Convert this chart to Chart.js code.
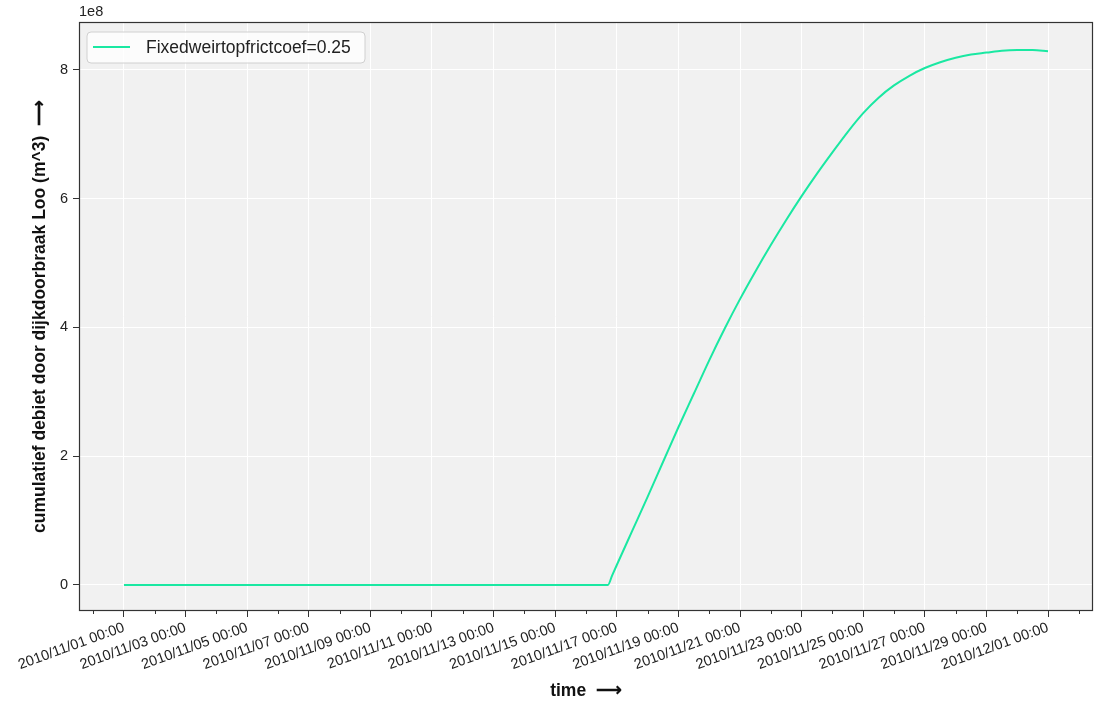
<!DOCTYPE html>
<html>
<head>
<meta charset="utf-8">
<script src="https://cdn.jsdelivr.net/npm/chart.js@4"></script>
<style>
  html, body { margin: 0; padding: 0; background: #fff; }
</style>
</head>
<body>
<canvas id="line-chart" width="1096" height="704"></canvas>
<script>
// days since 2010/11/01 00:00
const dayOffsets = [0, 1, 2, 3, 4, 5, 6, 7, 8, 9, 10, 11, 12, 13, 14, 15, 15.71, 15.85,
    16, 16.5, 17, 17.5, 18, 18.5, 19, 19.5, 20, 20.5, 21, 21.5, 22, 22.5, 23, 23.5,
    24, 24.5, 25, 25.5, 26, 26.5, 27, 27.5, 28, 28.5, 29, 29.5, 30];
// cumulatief debiet (x 1e8 m^3)
const debiet = [0, 0, 0, 0, 0, 0, 0, 0, 0, 0, 0, 0, 0, 0, 0, 0, 0, 0.15,
    0.31, 0.84, 1.37, 1.91, 2.45, 2.97, 3.49, 3.98, 4.44, 4.87, 5.28, 5.67, 6.04, 6.39, 6.72, 7.04,
    7.33, 7.57, 7.76, 7.91, 8.03, 8.12, 8.19, 8.24, 8.27, 8.30, 8.31, 8.31, 8.29];
const seriesLabel = "Fixedweirtopfrictcoef=0.25";
const tickLabels = ["2010/11/01 00:00", "2010/11/03 00:00", "2010/11/05 00:00", "2010/11/07 00:00",
    "2010/11/09 00:00", "2010/11/11 00:00", "2010/11/13 00:00", "2010/11/15 00:00",
    "2010/11/17 00:00", "2010/11/19 00:00", "2010/11/21 00:00", "2010/11/23 00:00",
    "2010/11/25 00:00", "2010/11/27 00:00", "2010/11/29 00:00", "2010/12/01 00:00"];
const yTicks = [0, 2, 4, 6, 8];

const isMajor = v => v % 2 === 0 && v >= 0 && v <= 30;

Chart.defaults.font.family = "'Liberation Sans', Arial, sans-serif";
Chart.defaults.color = "#222";

// gray plot background, frame, minor ticks, "1e8" and legend box inside the axes
const axesDecor = {
    id: 'axesDecor',
    beforeDraw(chart) {
        const {ctx, chartArea: a} = chart;
        ctx.save();
        ctx.fillStyle = '#f1f1f1';
        ctx.fillRect(a.left, a.top, a.right - a.left, a.bottom - a.top);
        ctx.restore();
    },
    afterDraw(chart) {
        const {ctx, chartArea: a} = chart;
        const xs = chart.scales.x;
        ctx.save();
        ctx.strokeStyle = '#333';
        ctx.lineWidth = 1.2;
        ctx.strokeRect(a.left + 0.5, a.top + 0.5, a.right - a.left - 1, a.bottom - a.top - 1);
        // minor ticks
        ctx.lineWidth = 1;
        xs.ticks.forEach(t => {
            if (isMajor(t.value)) return;
            const px = Math.round(xs.getPixelForValue(t.value)) + 0.5;
            ctx.beginPath();
            ctx.moveTo(px, a.bottom);
            ctx.lineTo(px, a.bottom + 3);
            ctx.stroke();
        });
        // offset text
        ctx.fillStyle = '#222';
        ctx.font = "14.5px 'Liberation Sans', Arial, sans-serif";
        ctx.textBaseline = 'bottom';
        ctx.fillText('1e8', a.left, a.top - 3);
        // legend
        const ds = chart.data.datasets[0];
        const bx = a.left + 8, by = a.top + 10, bw = 278, bh = 31;
        ctx.beginPath();
        ctx.roundRect(bx, by, bw, bh, 4);
        ctx.fillStyle = 'rgba(255,255,255,0.8)';
        ctx.fill();
        ctx.strokeStyle = '#d0d0d0';
        ctx.stroke();
        ctx.beginPath();
        ctx.strokeStyle = ds.borderColor;
        ctx.lineWidth = 2;
        ctx.moveTo(bx + 6, by + 15);
        ctx.lineTo(bx + 43, by + 15);
        ctx.stroke();
        ctx.fillStyle = '#222';
        ctx.font = "17.5px 'Liberation Sans', Arial, sans-serif";
        ctx.textBaseline = 'middle';
        ctx.fillText(ds.label, bx + 59, by + 16);
        ctx.restore();
    }
};

new Chart(document.getElementById("line-chart"), {
    type: 'line',
    data: {
        datasets: [{
            label: seriesLabel,
            data: dayOffsets.map((d, i) => ({x: d, y: debiet[i] * 1e8})),
            borderColor: '#1ae8a2',
            borderWidth: 2,
            pointRadius: 0,
            fill: false,
            cubicInterpolationMode: 'monotone'
        }]
    },
    options: {
        responsive: false,
        animation: false,
        layout: { padding: { top: 22, right: 3, left: 0, bottom: 0 } },
        plugins: {
            legend: { display: false },
            tooltip: { enabled: false }
        },
        scales: {
            x: {
                type: 'linear',
                min: -1.46,
                max: 31.46,
                afterBuildTicks: s => { s.ticks = []; for (let d = -1; d <= 31; d++) s.ticks.push({value: d}); },
                afterFit: s => { s.height = 93; },
                border: { display: false },
                grid: {
                    color: c => isMajor(c.tick.value) ? '#ffffff' : 'rgba(0,0,0,0)',
                    tickColor: c => isMajor(c.tick.value) ? '#333' : 'rgba(0,0,0,0)',
                    lineWidth: 1,
                    tickLength: 6
                },
                ticks: {
                    autoSkip: false,
                    minRotation: 20,
                    maxRotation: 20,
                    padding: 2,
                    font: { size: 14.5 },
                    callback: v => isMajor(v) ? tickLabels[v / 2] : ''
                },
                title: {
                    display: true,
                    text: 'time  \u27F6',
                    font: { size: 17.5, weight: 'bold' },
                    color: '#111',
                    padding: { top: 0, bottom: 2 }
                }
            },
            y: {
                min: -0.404e8,
                max: 8.745e8,
                afterBuildTicks: s => { s.ticks = yTicks.map(v => ({value: v * 1e8})); },
                afterFit: s => { s.width = 79; },
                border: { display: false },
                grid: {
                    color: '#ffffff',
                    tickColor: '#333',
                    lineWidth: 1,
                    tickLength: 6
                },
                ticks: {
                    padding: 5,
                    font: { size: 14.5 },
                    callback: v => String(v / 1e8)
                },
                title: {
                    display: true,
                    text: 'cumulatief debiet door dijkdoorbraak Loo (m^3)  \u27F6',
                    font: { size: 17.5, weight: 'bold' },
                    color: '#111',
                    padding: { top: 30, bottom: 0 }
                }
            }
        }
    },
    plugins: [axesDecor]
});
</script>
</body>
</html>
